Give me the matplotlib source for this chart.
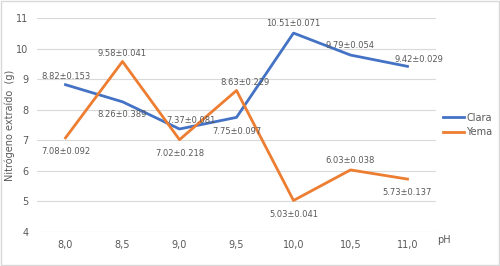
import numpy as np
import matplotlib.pyplot as plt

ph = ['8,0', '8,5', '9,0', '9,5', '10,0', '10,5', '11,0']
clara = [8.82, 8.26, 7.37, 7.75, 10.51, 9.79, 9.42]
clara_sd = ['0.153', '0.389', '0.081', '0.097', '0.071', '0.054', '0.029']
yema = [7.08, 9.58, 7.02, 8.63, 5.03, 6.03, 5.73]
yema_sd = ['0.092', '0.041', '0.218', '0.229', '0.041', '0.038', '0.137']

# label offsets (points) for each point
clara_off = [(0, 6), (0, -9), (8, 6), (0, -10), (0, 7), (0, 7), (8, 5)]
yema_off = [(0, -10), (0, 6), (0, -10), (6, 6), (0, -10), (0, 7), (0, -10)]

gray = '#595959'
x = np.arange(len(ph))

fig = plt.figure(figsize=(5, 2.66), dpi=100)
ax = fig.add_axes([0.074, 0.128, 0.798, 0.804])

ax.plot(x, clara, color='#4472C4', lw=2, label='Clara')
ax.plot(x, yema, color='#ED7D31', lw=2, label='Yema')

for i in range(len(x)):
    ax.annotate(f'{clara[i]:.2f}±{clara_sd[i]}', (x[i], clara[i]), xytext=clara_off[i],
                textcoords='offset points', ha='center', va='center', fontsize=6, color=gray)
    ax.annotate(f'{yema[i]:.2f}±{yema_sd[i]}', (x[i], yema[i]), xytext=yema_off[i],
                textcoords='offset points', ha='center', va='center', fontsize=6, color=gray)

ax.set_xlim(-0.5, len(ph) - 0.5)
ax.set_ylim(4, 11)
ax.set_yticks(range(4, 12))
ax.set_xticks(x)
ax.set_xticklabels(ph)
ax.tick_params(length=0, labelsize=7, colors=gray, pad=6)
ax.grid(axis='y', color='#d9d9d9', lw=0.8)
ax.set_axisbelow(True)
for s in ax.spines.values():
    s.set_visible(False)

ax.set_ylabel('Nitrógeno extraído  (g)', fontsize=7, color=gray)
ax.yaxis.set_label_coords(-0.055, 0.5)
fig.text(0.875, 0.085, 'pH', fontsize=7, color=gray)

ax.legend(loc='center left', bbox_to_anchor=(0.995, 0.5), frameon=False, fontsize=7,
          labelcolor=gray, handlelength=2.2, handletextpad=0.2)

fig.patches.append(plt.Rectangle((0.002, 0.004), 0.996, 0.992, transform=fig.transFigure,
                                 fill=False, edgecolor='#d9d9d9', lw=1))

fig.savefig('out.png', dpi=100)
